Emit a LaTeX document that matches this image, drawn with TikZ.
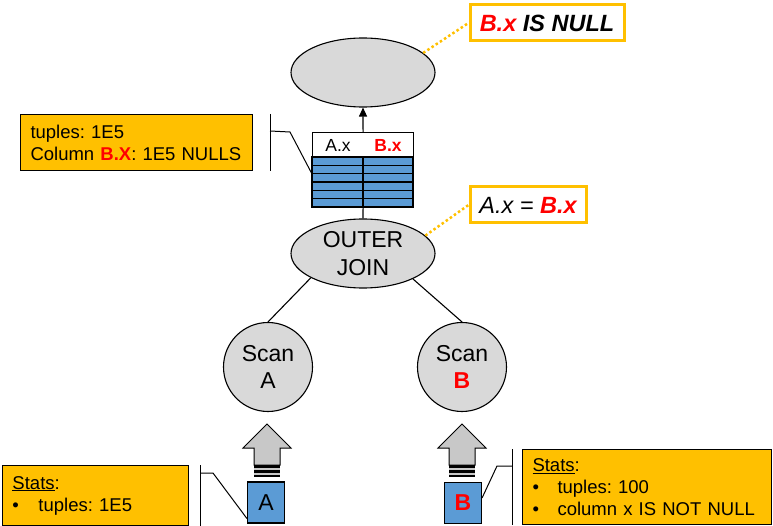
\documentclass[tikz,border=0pt]{standalone}
\usepackage{fontspec}
\setmainfont{Liberation Sans}
\usetikzlibrary{calc,shapes.geometric,arrows.meta}
\definecolor{callout}{HTML}{FFC000}
\definecolor{tblue}{HTML}{5B9BD5}
\definecolor{opgray}{HTML}{D9D9D9}
\definecolor{upgray}{HTML}{C8C8C8}
\definecolor{xred}{HTML}{FF0000}
\frenchspacing

\begin{document}
\begin{tikzpicture}[x=1pt,y=-1pt,line width=1.1pt,
  op/.style={ellipse,draw,fill=opgray,minimum width=144,minimum height=69,inner sep=0pt,align=center,font=\fontsize{23}{28}\selectfont},
  scan/.style={circle,draw,fill=opgray,minimum size=89,inner sep=0pt,align=center,font=\fontsize{23}{27}\selectfont},
  rel/.style={draw,fill=tblue,minimum width=37,minimum height=41,inner sep=0pt,font=\fontsize{23}{27}\selectfont},
  pred/.style={draw=callout,line width=3pt,fill=white,minimum height=36,inner sep=0pt,anchor=north west,font=\fontsize{23.5}{28}\selectfont\itshape},
  stats/.style={draw,line width=1pt,fill=callout,anchor=north west,align=left,inner xsep=10pt,inner ysep=0pt,font=\fontsize{18.5}{22}\selectfont},
  hint/.style={draw=callout,line width=2.5pt,dash pattern=on 2.5pt off 2.5pt},
  bracket/.style={line width=1pt}]
\useasboundingbox (0,0) rectangle (773,526);
\node[op] (filter) at (363,72.5) {};
\node[pred,minimum width=154] (isnull) at (468.5,3.5) {\bfseries\textcolor{xred}{B.x} IS NULL};
\draw[hint] (filter.18) -- (isnull.west);
\node[draw,fill=white,minimum width=101,minimum height=25,inner sep=0pt,anchor=north west] (head) at (312,132) {};
\node[font=\fontsize{17.5}{20}\selectfont] (colA) at (338,145) {A.x};
\node[font=\fontsize{17.5}{20}\selectfont\bfseries,text=xred] (colB) at (388,145) {B.x};
\node[minimum width=101,minimum height=50,inner sep=0pt,anchor=north west] (body) at (312,157) {};
\foreach \i in {0,...,5}
  \draw[fill=tblue] (312,157+\i*8.333) rectangle (413,165.333+\i*8.333);
\draw (363,157) -- (363,207);
\draw[-{Triangle[length=9pt,width=8pt]}] (head.north) -- (filter.south);
\node[op] (join) at (363,253.5) {OUTER\\JOIN};
\node[pred,minimum width=116] (eq) at (468.5,185.5) {A.x = \textbf{\textcolor{xred}{B.x}}};
\draw[hint] (join.16) -- (eq.west);
\draw (body.south) -- (join.north);
\node[scan] (scanA) at (268,367) {Scan\\A};
\node[scan] (scanB) at (462,367) {Scan\\\textbf{\textcolor{xred}{B}}};
\draw (join.205) -- (scanA.north);
\draw (join.-27) -- (scanB.north);
\foreach \cx in {267,462} {
  \draw[fill=upgray,line width=1pt] (\cx,424) -- (\cx+24,448) -- (\cx+13,448) -- (\cx+13,465)
    -- (\cx-13,465) -- (\cx-13,448) -- (\cx-24,448) -- cycle;
  \fill[upgray] (\cx-13,465) rectangle (\cx+13,477);
  \foreach \s in {465,470,474.5}
    \fill (\cx-13,\s) rectangle (\cx+13,\s+2.5);
}
\node[rel] (relA) at (266,502.5) {A};
\node[rel] (relB) at (463,503) {\textbf{\textcolor{xred}{B}}};
\node[stats,text width=212,minimum height=56] (statsTop) at (20,114) {tuples: 1E5\\Column \textbf{\textcolor{xred}{B.X}}: 1E5 NULLS};
\node[stats,text width=166,minimum height=60] (statsA) at (2,465) {\underline{Stats}:\\\makebox[26pt][l]{\textbullet}tuples: 1E5};
\node[stats,text width=229,minimum height=75] (statsB) at (522,449) {\underline{Stats}:\\\makebox[25pt][l]{\textbullet}tuples: 100\\\makebox[25pt][l]{\textbullet}column x IS NOT NULL};
\coordinate (topBar) at ($(statsTop.north east)+(17,0)$);
\coordinate (topKnee) at ($(topBar)+(20,18)$);
\draw[bracket] (topBar) -- ($(statsTop.south east)+(17,0)$);
\draw[bracket] ($(topBar)+(0,17)$) -- (topKnee) -- ($(body.north west)+(0,17)$);
\coordinate (aBar) at ($(statsA.north east)+(11,0)$);
\coordinate (aKnee) at ($(aBar)+(13,8)$);
\draw[bracket] (aBar) -- ($(statsA.south east)+(11,0)$);
\draw[bracket] ($(aBar)+(0,8)$) -- (aKnee) -- ($(relA.south west)+(0,-5)$);
\coordinate (bBar) at ($(statsB.north west)+(-10,0)$);
\coordinate (bKnee) at ($(bBar)+(-15,17)$);
\draw[bracket] (bBar) -- ($(statsB.south west)+(-10,0)$);
\draw[bracket] ($(bBar)+(0,17)$) -- (bKnee) -- ($(relB.east)+(0,-5)$);
\end{tikzpicture}
\end{document}
